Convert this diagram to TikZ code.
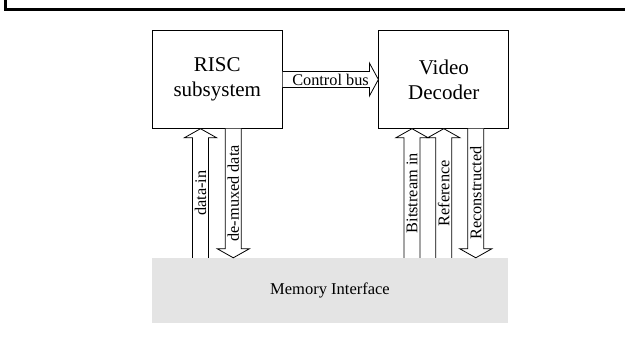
\documentclass[tikz,border=0pt]{standalone}
\usepackage{fontspec}
\setmainfont{Liberation Serif}
\usetikzlibrary{calc}

\definecolor{memgray}{RGB}{228,228,228}

\tikzset{
	unitbox/.style = {draw, line width=0.8pt, inner sep=0pt, minimum width=130pt, minimum height=97.6pt, align=center, font=\fontsize{21}{25}\selectfont},
	blockarrow/.style = {draw, fill=white, line width=0.8pt, line join=miter},
	buslabel/.style = {inner sep=0pt, font=\fontsize{16.3}{18}\selectfont}
}

\begin{document}
\begin{tikzpicture}[x=1pt, y=1pt]
		\useasboundingbox (0,0) rectangle (625,342);
		\draw[line width=3pt, line join=miter] (5.5,342) -- (5.5,332.5) -- (625,332.5);
		
		\node [unitbox] (risc) at (217.3,262.5) {RISC\\subsystem};
		\node [unitbox] (video) at (443.8,262.5) {Video\\Decoder};
		\node [fill=memgray, inner sep=0pt, minimum width=356pt, minimum height=65pt, font=\fontsize{16.5}{18}\selectfont] (mem) at (330,51.5) {Memory Interface};
		
		% control bus
		\draw [blockarrow] ([yshift=8]risc.east) -- ([xshift=-9,yshift=8]video.west) -- ([xshift=-9,yshift=16.5]video.west) -- (video.west) -- ([xshift=-9,yshift=-16.5]video.west) -- ([xshift=-9,yshift=-8]video.west) -- ([yshift=-8]risc.east);
		\node [buslabel] (ctl) at ($(risc.east)!0.5!(video.west)$) {Control bus};
		
		% data paths to and from memory
		\foreach \unit/\dx/\s/\txt in {risc/-16.8/-1/data-in, risc/16/1/de-muxed data, video/-31.8/-1/Bitstream in, video/0/-1/Reference, video/32/1/Reconstructed} {
			\coordinate (t) at ([xshift=\dx]\unit.south);
			\coordinate (b) at (t |- mem.north);
			\ifnum\s<0
				\coordinate (tip) at (t); \coordinate (tail) at (b);
			\else
				\coordinate (tip) at (b); \coordinate (tail) at (t);
			\fi
			\draw [blockarrow] ($(tail)+(-8,0)$) -- ($(tip)+(-8,\s*9)$) -- ($(tip)+(-16,\s*9)$) -- (tip) -- ($(tip)+(16,\s*9)$) -- ($(tip)+(8,\s*9)$) -- ($(tail)+(8,0)$);
			\node [buslabel, rotate=90] at ($(t)!0.5!(b)$) {\txt};
		}
	\end{tikzpicture}
\end{document}
